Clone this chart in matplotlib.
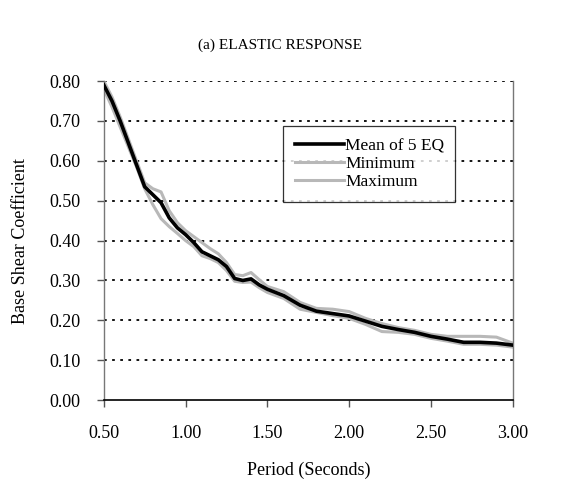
import matplotlib
matplotlib.use("Agg")
import matplotlib.pyplot as plt

plt.rcParams['font.family'] = ['Liberation Serif', 'DejaVu Serif']

# periods (s) and base shear coefficients
period = [0.50, 0.55, 0.60, 0.65, 0.70, 0.75, 0.80, 0.85, 0.90, 0.95,
          1.00, 1.05, 1.10, 1.15, 1.20, 1.25, 1.30, 1.35, 1.40, 1.45,
          1.50, 1.60, 1.70, 1.80, 1.90, 2.00, 2.10, 2.20, 2.30, 2.40,
          2.50, 2.60, 2.70, 2.80, 2.90, 3.00]
mean_eq = [0.790, 0.750, 0.700, 0.645, 0.590, 0.535, 0.515, 0.495, 0.457, 0.432,
           0.415, 0.395, 0.372, 0.362, 0.352, 0.335, 0.305, 0.300, 0.304, 0.289,
           0.278, 0.262, 0.238, 0.223, 0.217, 0.211, 0.198, 0.185, 0.177, 0.170,
           0.160, 0.153, 0.145, 0.145, 0.143, 0.138]
min_eq = [0.780, 0.735, 0.685, 0.635, 0.585, 0.530, 0.490, 0.455, 0.435, 0.418,
          0.400, 0.385, 0.362, 0.355, 0.345, 0.325, 0.298, 0.295, 0.296, 0.282,
          0.270, 0.255, 0.228, 0.220, 0.212, 0.205, 0.190, 0.172, 0.170, 0.165,
          0.155, 0.148, 0.140, 0.140, 0.138, 0.133]
max_eq = [0.800, 0.760, 0.710, 0.655, 0.600, 0.545, 0.530, 0.522, 0.475, 0.445,
          0.425, 0.410, 0.395, 0.380, 0.367, 0.345, 0.315, 0.312, 0.320, 0.302,
          0.285, 0.272, 0.245, 0.230, 0.228, 0.222, 0.205, 0.192, 0.182, 0.175,
          0.165, 0.160, 0.160, 0.160, 0.158, 0.143]

x_ticks = [0.5, 1.0, 1.5, 2.0, 2.5, 3.0]
y_ticks = [0.0, 0.1, 0.2, 0.3, 0.4, 0.5, 0.6, 0.7, 0.8]

fig = plt.figure(figsize=(5.61, 4.91), dpi=100)
ax = fig.add_axes([0.185, 0.185, 0.729, 0.65])

# dotted horizontal grid like the spreadsheet original
for yv in y_ticks[1:]:
    ax.axhline(yv, color='black', lw=1.3, ls=(0, (1.5, 3.0)), zorder=1)

ax.plot(period, min_eq, color='#b8b8b8', lw=2.2, label='Minimum', zorder=2)
ax.plot(period, max_eq, color='#b8b8b8', lw=2.2, label='Maximum', zorder=2)
ax.plot(period, mean_eq, color='black', lw=2.6, label='Mean of 5 EQ', zorder=3)

ax.set_xlim(0.5, 3.0)
ax.set_ylim(0.0, 0.8)
ax.set_xticks(x_ticks)
ax.set_yticks(y_ticks)
ax.set_xticklabels([f"{v:.2f}" for v in x_ticks])
ax.set_yticklabels([f"{v:.2f}" for v in y_ticks])
ax.tick_params(axis='both', labelsize=13, length=5, width=1, color='#555555',
               direction='out')
ax.tick_params(axis='x', pad=13)
ax.tick_params(axis='y', pad=12)

ax.spines['top'].set_visible(False)
for side in ['left', 'right']:
    ax.spines[side].set_color('#777777')
    ax.spines[side].set_linewidth(1.0)
ax.spines['bottom'].set_color('black')
ax.spines['bottom'].set_linewidth(1.2)

ax.set_xlabel('Period (Seconds)', fontsize=13, labelpad=14)
ax.set_ylabel('Base Shear Coefficient', fontsize=13, labelpad=14)

handles, labels = ax.get_legend_handles_labels()
order = [2, 0, 1]
leg = ax.legend([handles[i] for i in order], [labels[i] for i in order],
                loc='upper left', bbox_to_anchor=(0.438, 0.859, 0.42, 0.0),
                mode='expand', fontsize=12.5, frameon=True, fancybox=False,
                edgecolor='black', handlelength=2.8, handletextpad=0.1,
                labelspacing=0.1, borderpad=0.7, borderaxespad=0)
leg.get_frame().set_linewidth(0.9)

fig.text(0.5, 1 - 45 / 491, '(a) ELASTIC RESPONSE', ha='center', va='center',
         fontsize=11)

fig.savefig('out.png', dpi=100)
